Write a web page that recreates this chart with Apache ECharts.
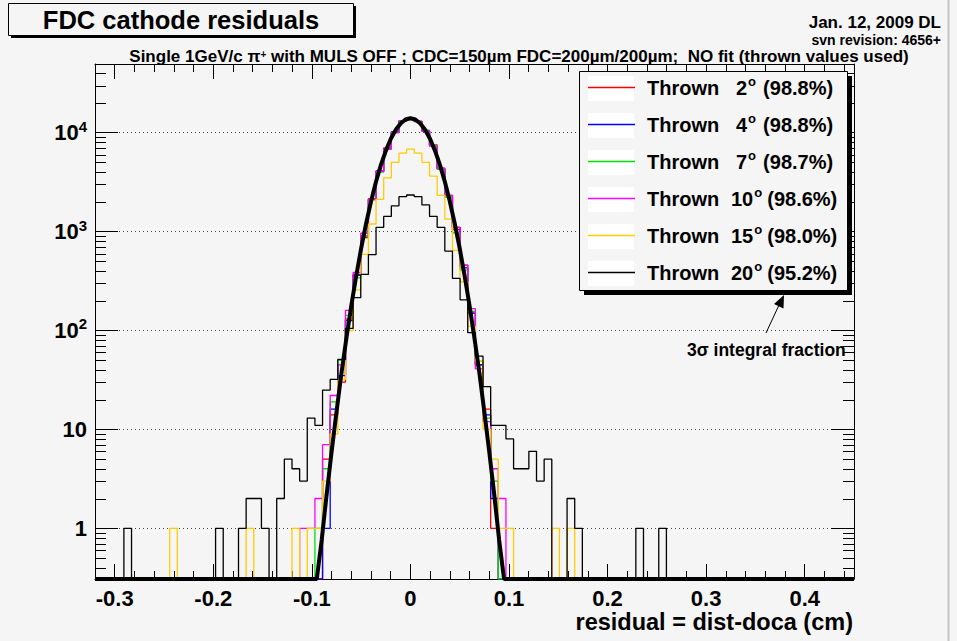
<!DOCTYPE html>
<html>
<head>
<meta charset="utf-8">
<title>FDC cathode residuals</title>
<script src="https://cdn.jsdelivr.net/npm/echarts@6.0.0/dist/echarts.min.js"></script>
<style>
html, body { margin: 0; padding: 0; background: #f5f5f5; }
#chart { width: 957px; height: 641px; }
</style>
</head>
<body>
<div id="chart"></div>
<script>
// ---------------- data ----------------
const thrownAngles = [2, 4, 7, 10, 15, 20];
const integralFractions = ['98.8', '98.8', '98.7', '98.6', '98.0', '95.2'];

// histogram definition: bin k has centre k * binWidth (cm); arrays start at k = firstBin
const firstBin = -41;
const binWidth = 1 / 129;

// counts per bin, k = -41 ... 58 (10 bins per line)
const counts2deg = [
  0,0,0,0,0,0,0,0,0,0,
  0,0,0,0,0,0,0,0,0,0,
  0,0,0,0,0,0,0,0,0,0,
  5,14,30,130,370,871,2150,4100,7000,10200,
  13000,14100,13000,10500,7530,4300,2326,1050,457,150,
  45,16,1,0,0,0,0,0,0,0,
  0,0,0,0,0,0,0,0,0,0,
  0,0,0,0,0,0,0,0,0,0,
  0,0,0,0,0,0,0,0,0,0,
  0,0,0,0,0,0,0,0,0,0
];
const counts4deg = [
  0,0,0,0,0,0,0,0,0,0,
  0,0,0,0,0,0,0,0,0,0,
  0,0,0,0,0,0,0,0,0,0,
  1,16,35,126,360,900,2100,4074,6900,10100,
  13183,14000,13000,10400,7400,4300,2250,1105,430,150,
  45,14,2,0,0,0,0,0,0,0,
  0,0,0,0,0,0,0,0,0,0,
  0,0,0,0,0,0,0,0,0,0,
  0,0,0,0,0,0,0,0,0,0,
  0,0,0,0,0,0,0,0,0,0
];
const counts7deg = [
  0,0,0,0,0,0,0,0,0,0,
  0,0,0,0,0,0,0,0,0,0,
  0,0,0,0,0,0,0,0,0,1,
  4,19,50,142,341,900,2122,4000,6813,10000,
  13100,14230,12900,10630,7450,4300,2250,970,407,156,
  49,13,3,0,0,0,0,0,0,0,
  0,0,0,0,0,0,0,0,0,0,
  0,0,0,0,0,0,0,0,0,0,
  0,0,0,0,0,0,0,0,0,0,
  0,0,0,0,0,0,0,0,0,0
];
const counts10deg = [
  0,0,0,0,0,0,0,0,0,0,
  0,0,0,0,0,0,0,0,0,0,
  0,0,0,0,0,0,0,1,1,2,
  7,22,45,160,386,962,2122,4074,6813,10000,
  13183,14000,13000,10400,7300,4400,2326,1105,457,166,
  41,12,4,2,0,0,0,0,0,0,
  0,0,0,0,0,0,0,0,0,0,
  0,0,0,0,0,0,0,0,0,0,
  0,0,0,0,0,0,0,0,0,0,
  0,0,0,0,0,0,0,0,0,0
];
const counts15deg = [
  0,0,0,0,0,0,0,0,0,0,
  1,0,0,0,0,0,0,0,0,0,
  1,0,0,0,0,0,1,0,1,1,
  3,9,32,100,257,589,1193,2122,3494,5012,
  6210,6813,6210,5012,3631,2326,1339,646,311,110,
  49,10,5,1,1,0,0,0,0,0,
  1,0,1,0,0,0,0,0,0,0,
  0,0,0,0,0,0,0,0,0,0,
  0,0,0,0,0,0,0,0,0,0,
  0,0,0,0,0,0,0,0,0,0
];
const counts20deg = [
  0,0,0,0,1,0,0,0,0,0,
  0,0,0,0,0,0,1,0,0,1,
  2,2,1,0,2,5,4,3,13,11,
  25,32,51,105,215,369,584,1105,1423,1820,
  2256,2344,2256,1862,1423,1105,636,336,204,95,
  55,27,11,11,8,4,4,6,3,5,
  0,0,2,1,0,0,0,0,0,0,
  0,1,0,0,1,0,0,0,0,0,
  0,0,0,0,0,0,0,0,0,0,
  0,0,0,0,0,0,0,0,0,0
];

// thick black reference curve (thrown resolution)
const curveX = [-0.32, -0.1, -0.095, -0.09, -0.085, -0.08, -0.075, -0.07, -0.065, -0.06, -0.055, -0.05,
  -0.045, -0.04, -0.035, -0.03, -0.025, -0.02, -0.015, -0.01, -0.005, 0, 0.005, 0.01, 0.015, 0.02,
  0.025, 0.03, 0.035, 0.04, 0.045, 0.05, 0.055, 0.06, 0.065, 0.07, 0.075, 0.08, 0.085, 0.09, 0.095, 0.1, 0.45];
const curveY = [0, 0, 0.25, 0.76, 2.2, 5.9, 15, 37, 83, 178, 357, 675,
  1200, 2010, 3170, 4700, 6550, 8620, 10650, 12400, 13580, 14000, 13580, 12400, 10650, 8620,
  6550, 4700, 3170, 2010, 1200, 675, 357, 178, 83, 37, 15, 5.9, 2.2, 0.76, 0.25, 0, 0];

// axis ranges
const X_MIN = -0.32, X_MAX = 0.45;
const Y_MIN = 0.307, Y_MAX = 49500;

// ---------------- styling ----------------
const FF = '"Liberation Sans", Arial, Helvetica, sans-serif';
const BG = '#f5f5f5';
const seriesColors = ['#ff0000', '#0000ff', '#00e000', '#ff00ff', '#ffcc00', '#000000'];
const allCounts = [counts2deg, counts4deg, counts7deg, counts10deg, counts15deg, counts20deg];
const seriesNames = thrownAngles.map((a, i) => 'Thrown ' + a + '\u00b0 (' + integralFractions[i] + '%)');

function histData(counts) {
  // empty bins are drawn on the bottom of the frame, as ROOT does on a log scale
  return counts.map((c, i) => [(firstBin + i) * binWidth, Math.max(c, Y_MIN)]);
}

const minorTickValues = [];
for (let e = -1; e <= 4; e++) {
  for (let m = 2; m <= 9; m++) {
    const v = m * Math.pow(10, e);
    if (v > Y_MIN && v < Y_MAX) minorTickValues.push(v);
  }
}

const histSeries = allCounts.map((counts, i) => ({
  name: seriesNames[i],
  type: 'line',
  step: 'middle',
  data: histData(counts),
  symbol: 'none',
  color: seriesColors[i],
  itemStyle: { color: seriesColors[i] },
  lineStyle: { color: seriesColors[i], width: 1.3 },
  z: 2,
  silent: true,
  animation: false
}));

const curveSeries = {
  name: 'thrown resolution',
  type: 'line',
  data: curveX.map((x, i) => [x, Math.max(curveY[i], Y_MIN)]),
  symbol: 'none',
  lineStyle: { color: '#000', width: 4 },
  clip: false,
  z: 3,
  silent: true,
  animation: false
};

const minorTickSeries = {
  type: 'custom',
  coordinateSystem: 'cartesian2d',
  silent: true,
  clip: false,
  z: 3,
  data: minorTickValues.map(v => [X_MIN, v]),
  renderItem: (params, api) => {
    const p = api.coord([X_MIN, api.value(1)]);
    const q = api.coord([X_MAX, api.value(1)]);
    const y = Math.round(p[1]) + 0.5;
    return {
      type: 'group',
      children: [
        { type: 'line', shape: { x1: p[0], y1: y, x2: p[0] + 11, y2: y }, style: { stroke: '#000', lineWidth: 1 } },
        { type: 'line', shape: { x1: q[0] - 11, y1: y, x2: q[0], y2: y }, style: { stroke: '#000', lineWidth: 1 } }
      ]
    };
  }
};

const xAxisBase = {
  type: 'value',
  min: X_MIN,
  max: X_MAX,
  splitNumber: 8,
  axisLine: { show: true, onZero: false, lineStyle: { color: '#000', width: 1 } },
  axisTick: { show: true, inside: true, length: 15, lineStyle: { color: '#000', width: 1 } },
  minorTick: { show: true, splitNumber: 5, length: 8, lineStyle: { color: '#000', width: 1 } },
  splitLine: { show: false }
};

const yAxisBase = {
  type: 'log',
  logBase: 10,
  min: Y_MIN,
  max: Y_MAX,
  axisLine: { show: true, onZero: false, lineStyle: { color: '#000', width: 1 } },
  axisTick: { show: true, inside: true, length: 23, lineStyle: { color: '#000', width: 1 } },
  minorTick: { show: false }
};

// legend box geometry (ROOT TLegend with shadow)
const LEG_X = 579, LEG_Y = 71, LEG_W = 268, LEG_H = 219, LEG_ROW = 37, LEG_PAD_TOP = 4, LEG_PAD_LEFT = 9;
const legendDecor = [
  { type: 'rect', z: 5, silent: true, shape: { x: LEG_X + 5, y: LEG_Y + 5, width: LEG_W, height: LEG_H }, style: { fill: '#000' } },
  { type: 'rect', z: 5, silent: true, shape: { x: LEG_X + 0.5, y: LEG_Y + 0.5, width: LEG_W, height: LEG_H }, style: { fill: BG, stroke: '#000', lineWidth: 1 } }
];
thrownAngles.forEach((a, i) => {
  const top = LEG_Y + 1 + LEG_PAD_TOP + i * LEG_ROW;
  legendDecor.push({ type: 'rect', z: 5, silent: true, shape: { x: LEG_X + LEG_PAD_LEFT, y: top, width: 46, height: 25 }, style: { fill: '#ffffff' } });
});

const option = {
  backgroundColor: BG,
  animation: false,
  grid: { left: 95, right: 103, top: 64, bottom: 62, containLabel: false, outerBoundsMode: 'none' },
  xAxis: [
    Object.assign({}, xAxisBase, {
      position: 'bottom',
      axisLabel: {
        show: true, margin: 8, fontFamily: FF, fontWeight: 'bold', fontSize: 22, color: '#000',
        showMinLabel: false, showMaxLabel: false,
        formatter: v => {
          const r = Math.round(v * 10) / 10;
          if (Math.abs(r - v) > 1e-6) return '';
          return Math.abs(r) < 1e-9 ? '0' : r.toFixed(1);
        }
      }
    }),
    Object.assign({}, xAxisBase, { position: 'top', axisLabel: { show: false } })
  ],
  yAxis: [
    Object.assign({}, yAxisBase, {
      position: 'left',
      splitLine: { show: true, lineStyle: { type: [1, 3], color: '#444', width: 1 } },
      axisLabel: {
        show: true, margin: 8, showMinLabel: false, showMaxLabel: false,
        formatter: v => {
          const l = Math.log10(v);
          const e = Math.round(l);
          if (Math.abs(l - e) > 1e-6) return '';
          if (e === 0) return '{b|1}';
          if (e === 1) return '{b|10}';
          return '{b|10}{s|' + e + '}';
        },
        rich: {
          b: { fontFamily: FF, fontWeight: 'bold', fontSize: 22, color: '#000', lineHeight: 28 },
          s: { fontFamily: FF, fontWeight: 'bold', fontSize: 15, color: '#000', lineHeight: 15, verticalAlign: 'top' }
        }
      }
    }),
    Object.assign({}, yAxisBase, { position: 'right', axisLabel: { show: false }, splitLine: { show: false } })
  ],
  legend: {
    show: true,
    orient: 'vertical',
    left: LEG_X,
    top: LEG_Y,
    padding: [LEG_PAD_TOP, 14, 4, LEG_PAD_LEFT],
    itemWidth: 54,
    itemHeight: 25,
    itemGap: LEG_ROW - 25,
    selectedMode: false,
    z: 6,
    backgroundColor: 'transparent',
    borderWidth: 0,
    data: seriesNames,
    icon: 'path://M0,0h0.01v0.01h-0.01z M0,11.75h47v1.5h-47z M53.99,24.99h0.01v0.01h-0.01z',
    formatter: name => {
      const i = seriesNames.indexOf(name);
      const a = thrownAngles[i];
      const wide = a >= 10;
      return '{' + (wide ? 't2' : 't1') + '|Thrown}{n|' + a + '}{o|o}{' + (wide ? 'p2' : 'p1') + '|(' + integralFractions[i] + '%)}';
    },
    textStyle: {
      color: '#000', fontFamily: FF, fontWeight: 'bold', fontSize: 20,
      rich: {
        t1: { fontFamily: FF, fontWeight: 'bold', fontSize: 20, color: '#000', width: 89, lineHeight: 25 },
        t2: { fontFamily: FF, fontWeight: 'bold', fontSize: 20, color: '#000', width: 84, lineHeight: 25 },
        n: { fontFamily: FF, fontWeight: 'bold', fontSize: 20, color: '#000', lineHeight: 25 },
        o: { fontFamily: FF, fontWeight: 'bold', fontSize: 13, color: '#000', width: 8, lineHeight: 13, verticalAlign: 'top', padding: [0, 0, 0, 1] },
        p1: { fontFamily: FF, fontWeight: 'bold', fontSize: 20, color: '#000', lineHeight: 25, padding: [0, 0, 0, 7] },
        p2: { fontFamily: FF, fontWeight: 'bold', fontSize: 20, color: '#000', lineHeight: 25, padding: [0, 0, 0, 5] }
      }
    }
  },
  graphic: [
    // canvas window border on the right
    { type: 'line', z: 1, silent: true, shape: { x1: 948.5, y1: 0, x2: 948.5, y2: 641 }, style: { stroke: '#c4c4c4', lineWidth: 2 } },
    // title pave with shadow
    { type: 'rect', z: 3, silent: true, shape: { x: 11, y: 6, width: 345, height: 32 }, style: { fill: '#000' } },
    { type: 'rect', z: 3, silent: true, shape: { x: 8.5, y: 3.5, width: 345, height: 32 }, style: { fill: BG, stroke: '#000', lineWidth: 1 } },
    { type: 'text', z: 4, silent: true, x: 181, y: 20, style: { text: 'FDC cathode residuals', fontFamily: FF, fontWeight: 'bold', fontSize: 25.5, fill: '#000', align: 'center', verticalAlign: 'middle' } },
    // date and revision
    { type: 'text', z: 4, silent: true, x: 941, y: 22, style: { text: 'Jan. 12, 2009 DL', fontFamily: FF, fontWeight: 'bold', fontSize: 17, fill: '#000', align: 'right', verticalAlign: 'middle' } },
    { type: 'text', z: 4, silent: true, x: 941, y: 40, style: { text: 'svn revision: 4656+', fontFamily: FF, fontWeight: 'bold', fontSize: 14, lineHeight: 14, fill: '#000', align: 'right', verticalAlign: 'middle' } },
    // subtitle
    { type: 'text', z: 4, silent: true, x: 519, y: 56.5, style: {
        text: '{a|Single 1GeV/c \u03c0}{s|+}{a| with MULS OFF ; CDC=150\u00b5m FDC=200\u00b5m/200\u00b5m;  NO fit (thrown values used)}',
        align: 'center', verticalAlign: 'middle',
        rich: {
          a: { fontFamily: FF, fontWeight: 'bold', fontSize: 17, fill: '#000', lineHeight: 15 },
          s: { fontFamily: FF, fontWeight: 'bold', fontSize: 10, fill: '#000', lineHeight: 8, verticalAlign: 'top' }
        }
      } },
    // x-axis title
    { type: 'text', z: 4, silent: true, x: 853, y: 622, style: { text: 'residual = dist-doca (cm)', fontFamily: FF, fontWeight: 'bold', fontSize: 23.5, fill: '#000', align: 'right', verticalAlign: 'middle' } },
    // annotation arrow + text
    { type: 'line', z: 7, silent: true, shape: { x1: 766, y1: 333, x2: 779, y2: 305 }, style: { stroke: '#000', lineWidth: 1 } },
    { type: 'polygon', z: 7, silent: true, shape: { points: [[784, 295], [783.5, 308.5], [774, 304]] }, style: { fill: '#000' } },
    { type: 'text', z: 7, silent: true, x: 687, y: 350, style: { text: '3\u03c3 integral fraction', fontFamily: FF, fontWeight: 'bold', fontSize: 17.5, fill: '#000', align: 'left', verticalAlign: 'middle' } }
  ].concat(legendDecor),
  series: histSeries.concat([curveSeries, minorTickSeries])
};

const chart = echarts.init(document.getElementById('chart'), null, { renderer: 'svg', width: 957, height: 641 });
chart.setOption(option);
</script>
</body>
</html>
